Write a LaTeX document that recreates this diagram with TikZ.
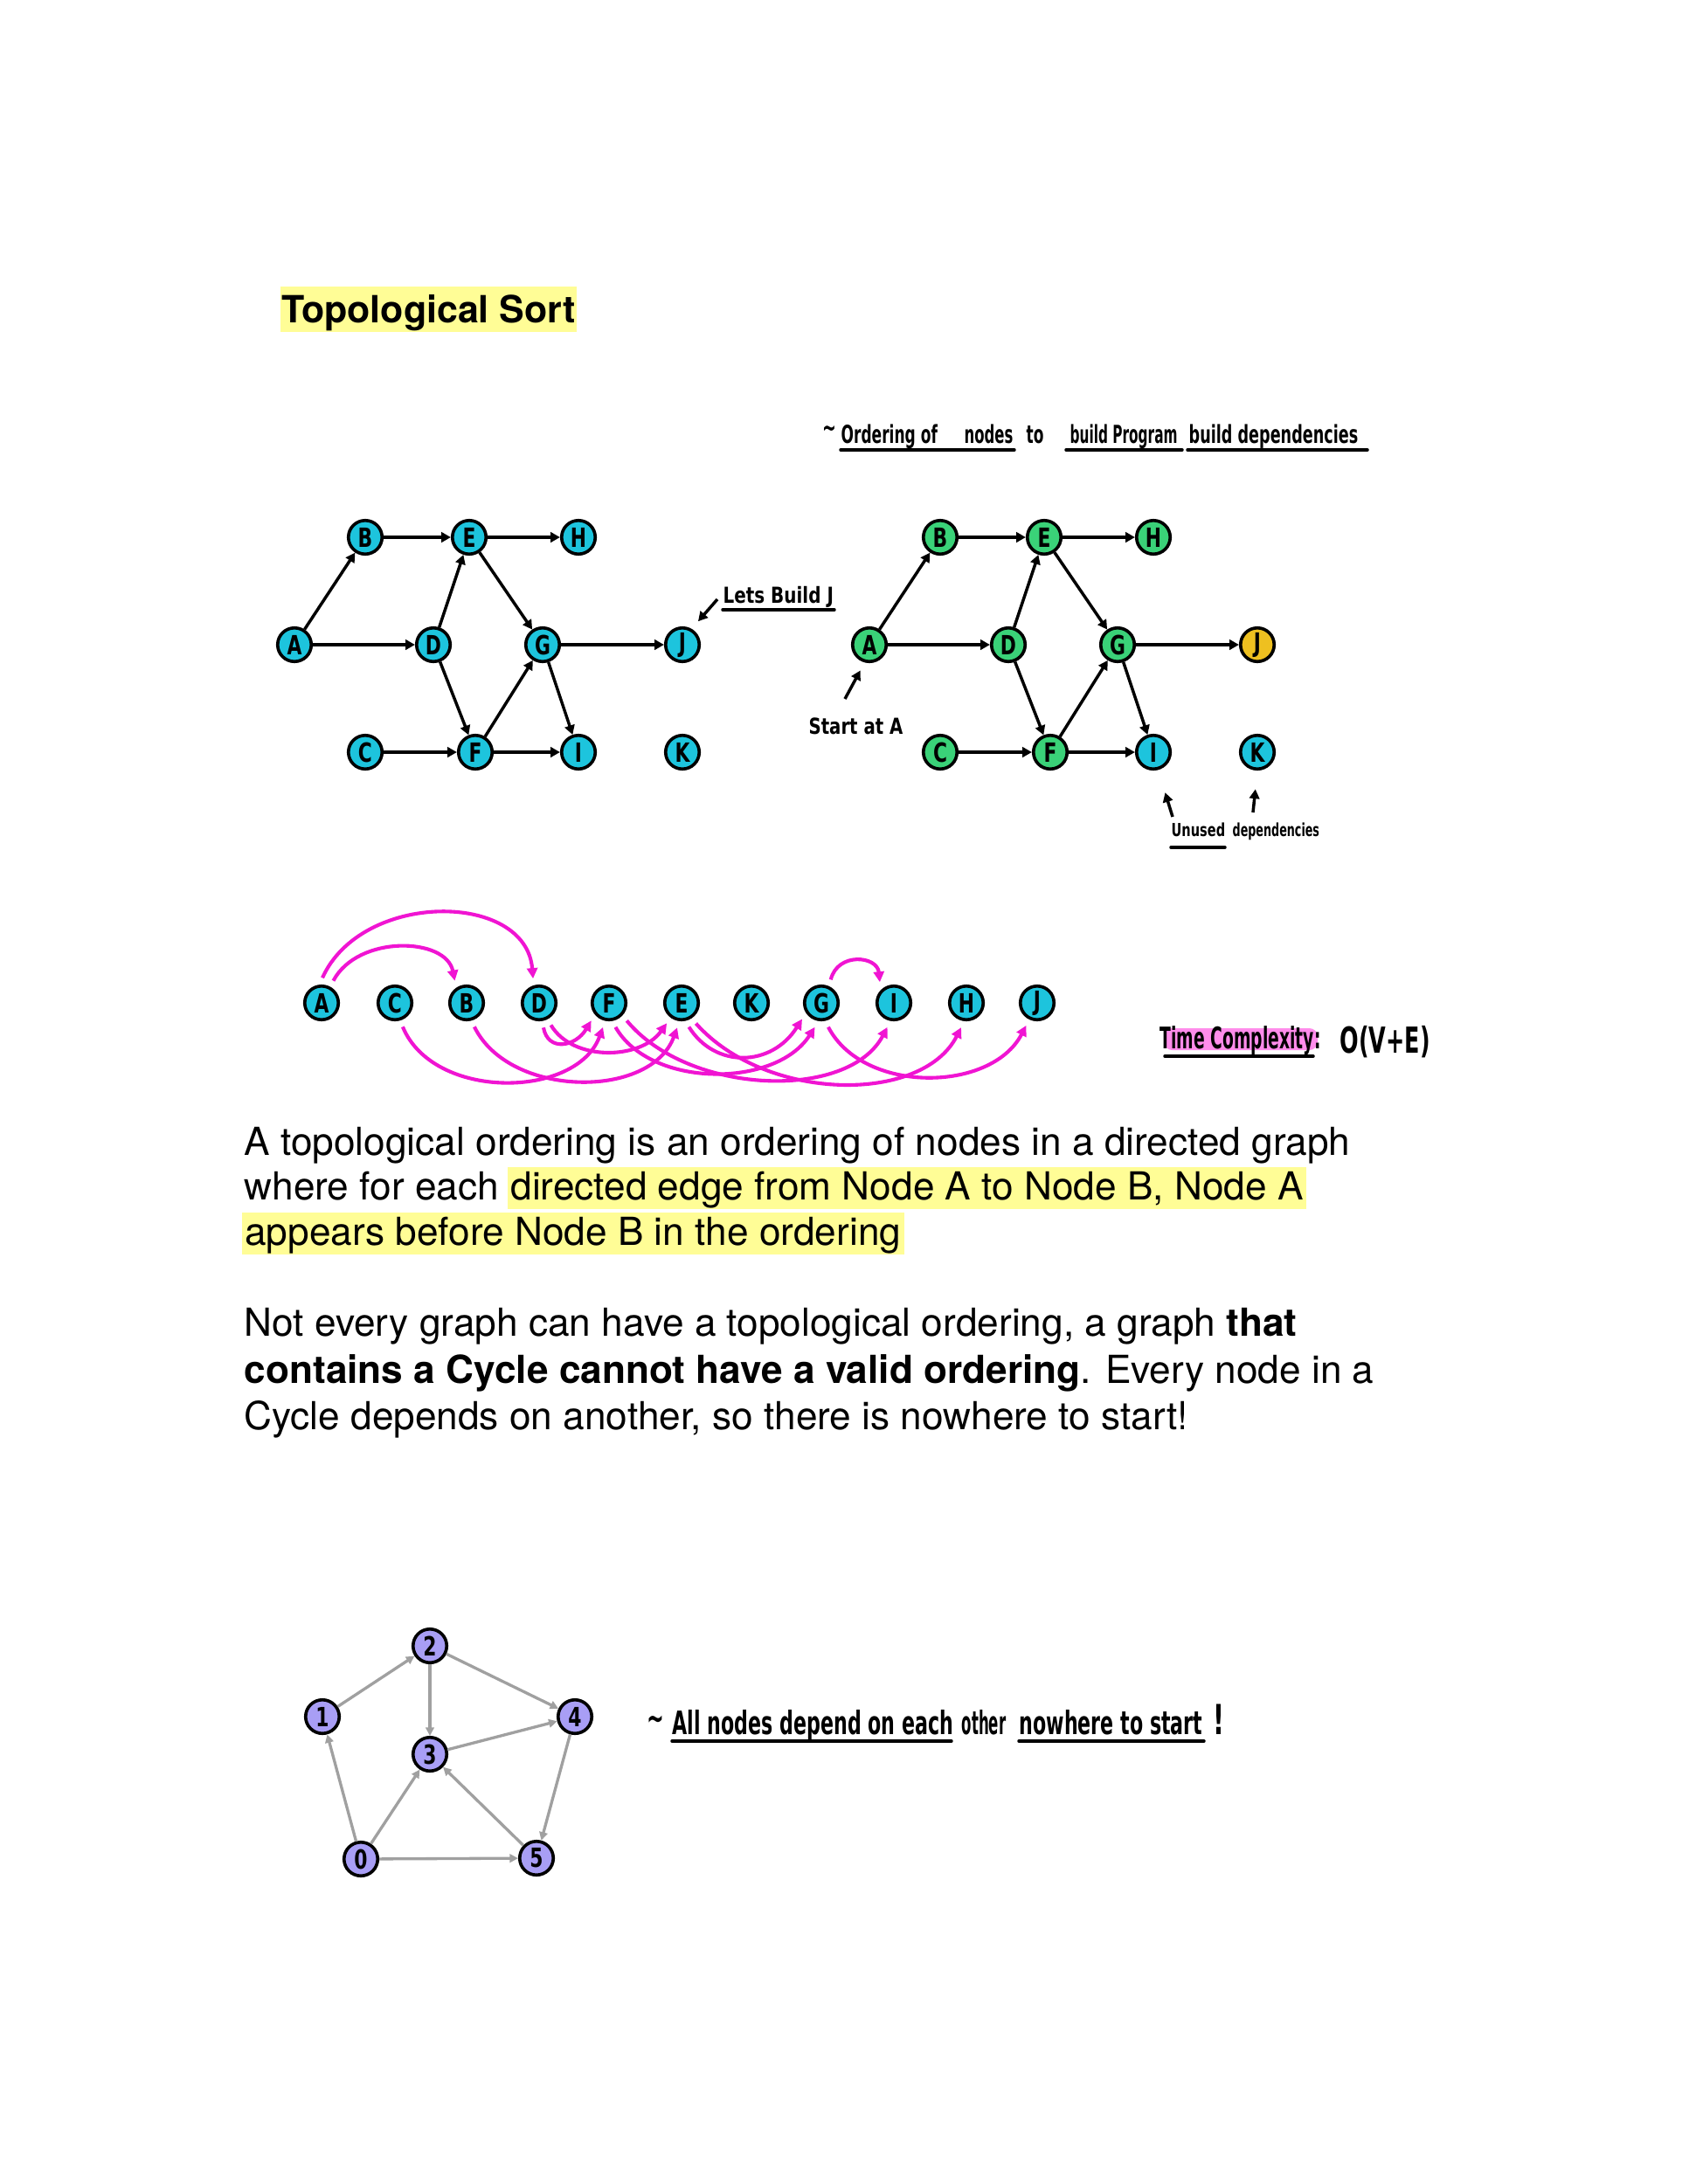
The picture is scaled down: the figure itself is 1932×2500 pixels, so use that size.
\documentclass[tikz,border=0pt]{standalone}
\usepackage{fontspec}
\usepackage{graphicx}
\setmainfont{TeX Gyre Heros}
\newfontfamily\handfont{DejaVu Sans}
\newfontfamily\letterfont[FakeStretch=0.72]{DejaVu Sans}
\usetikzlibrary{arrows.meta}
\newcommand\hw[2]{\scalebox{#1}[1]{#2}}

\definecolor{nodecyan}{RGB}{29,196,221}
\definecolor{nodegreen}{RGB}{58,210,120}
\definecolor{nodegold}{RGB}{238,192,32}
\definecolor{nodepurple}{RGB}{168,158,245}
\definecolor{arcmagenta}{RGB}{240,20,210}
\definecolor{edgegray}{RGB}{160,160,160}
\definecolor{hlyellow}{RGB}{255,253,150}
\definecolor{hlpink}{RGB}{255,140,235}

\begin{document}
\begin{tikzpicture}[x=0.3168pt,y=-0.3168pt,
  vtx/.style={circle,draw=black,line width=1.15pt,minimum size=12.2pt,inner sep=0pt,
    font=\letterfont\bfseries\fontsize{9.6}{10}\selectfont},
  cyanv/.style={vtx,fill=nodecyan},
  greenv/.style={vtx,fill=nodegreen},
  goldv/.style={vtx,fill=nodegold},
  rowv/.style={vtx,fill=nodecyan,outer sep=3pt},
  purplev/.style={vtx,fill=nodepurple},
  edge/.style={line width=1.1pt,-{Triangle[length=3.4pt,width=3.6pt]}},
  orderarc/.style={draw=arcmagenta,line width=1.3pt,-{Triangle[length=3.8pt,width=3.8pt]}},
  cycleedge/.style={draw=edgegray,line width=1.05pt,-{Triangle[length=3pt,width=3pt]}},
  note/.style={font=\handfont\bfseries\fontsize{#1}{#1}\selectfont,inner sep=0pt,anchor=base west},
  uline/.style={line width=1.1pt,line cap=round},
  body/.style={font=\fontsize{14}{16}\selectfont,inner sep=0pt,anchor=base west},
  hlband/.style={fill=hlyellow,inner xsep=1.2pt,inner ysep=0pt,text height=11.7pt,text depth=3.5pt}
]
\path[use as bounding box] (0,0) rectangle (1932,2500);
\fill[white] (0,0) rectangle (1932,2500);

% ---------- title ----------
\node[fill=hlyellow,inner xsep=0.5pt,inner ysep=0pt,text height=13pt,text depth=3.5pt,
  anchor=base west,font=\bfseries\fontsize{13.6}{16}\selectfont] (title) at (320,369) {Topological Sort};

% ---------- left graph ----------
\node[cyanv] (A1) at (337,738) {A};
\node[cyanv] (B1) at (418,615) {B};
\node[cyanv] (E1) at (537,615) {E};
\node[cyanv] (H1) at (662,615) {H};
\node[cyanv] (D1) at (496,738) {D};
\node[cyanv] (G1) at (621,738) {G};
\node[cyanv] (J1) at (781,738) {J};
\node[cyanv] (C1) at (418,861) {C};
\node[cyanv] (F1) at (544,861) {F};
\node[cyanv] (I1) at (662,861) {I};
\node[cyanv] (K1) at (781,861) {K};
\foreach \s/\t in {A1/B1,A1/D1,B1/E1,D1/E1,D1/F1,C1/F1,E1/H1,E1/G1,F1/G1,F1/I1,G1/J1,G1/I1}
  \draw[edge] (\s) -- (\t);

% note: which node to build
\node[note=8] (buildJ) at (827,690) {\hw{0.79}{Lets Build J}};
\draw[uline] (827,698) -- (955,698);
\coordinate (buildJtail) at (821,686);
\draw[edge,shorten >=3.6pt] (buildJtail) -- (J1.60);

% ---------- right graph ----------
\node[greenv] (A2) at (995,738) {A};
\node[greenv] (B2) at (1076,615) {B};
\node[greenv] (E2) at (1195,615) {E};
\node[greenv] (H2) at (1320,615) {H};
\node[greenv] (D2) at (1154,738) {D};
\node[greenv] (G2) at (1279,738) {G};
\node[goldv]  (J2) at (1439,738) {J};
\node[greenv] (C2) at (1076,861) {C};
\node[greenv] (F2) at (1202,861) {F};
\node[cyanv]  (I2) at (1320,861) {I};
\node[cyanv]  (K2) at (1439,861) {K};
\foreach \s/\t in {A2/B2,A2/D2,B2/E2,D2/E2,D2/F2,C2/F2,E2/H2,E2/G2,F2/G2,F2/I2,G2/J2,G2/I2}
  \draw[edge] (\s) -- (\t);

% heading note
\node[note=10] (tilde1) at (941,500) {\hw{0.6}{\textasciitilde}};
\node[note=9] (ord1) at (962,507) {\hw{0.6}{Ordering of}};
\node[note=9] (ord2) at (1103,507) {\hw{0.58}{nodes}};
\node[note=9] (ord3) at (1174,507) {\hw{0.6}{to}};
\node[note=9] (ord4) at (1224,507) {\hw{0.54}{build Program}};
\node[note=9] (ord5) at (1360,507) {\hw{0.62}{build dependencies}};
\draw[uline] (962,515) -- (1161,515);
\draw[uline] (1220,515) -- (1353,515);
\draw[uline] (1359,515) -- (1565,515);

% start note
\node[note=8] (startA) at (925,840) {\hw{0.78}{Start at A}};
\coordinate (startAtail) at (967,800);
\draw[edge,shorten >=3.3pt] (startAtail) -- (A2.-105);

% unused note
\node[note=6.5] (unused1) at (1340,957) {\hw{0.71}{Unused}};
\node[note=6.5] (unused2) at (1410,957) {\hw{0.62}{dependencies}};
\draw[uline] (1340,970) -- (1402,970);
\coordinate (unusedtailI) at (1342,935);
\coordinate (unusedtailK) at (1434,930);
\draw[edge,shorten >=8.6pt] (unusedtailI) -- (I2.-75);
\draw[edge,shorten >=6.8pt] (unusedtailK) -- (K2.south);

% ---------- ordering row ----------
\node[rowv] (rA) at (368,1148) {A};
\node[rowv] (rC) at (452,1148) {C};
\node[rowv] (rB) at (534,1148) {B};
\node[rowv] (rD) at (617,1148) {D};
\node[rowv] (rF) at (697,1148) {F};
\node[rowv] (rE) at (780,1148) {E};
\node[rowv] (rK) at (860,1148) {K};
\node[rowv] (rG) at (940,1148) {G};
\node[rowv] (rI) at (1023,1148) {I};
\node[rowv] (rH) at (1106,1148) {H};
\node[rowv] (rJ) at (1187,1148) {J};

% arcs above the row
\draw[orderarc] (rA.88) .. controls +(45,-100) and +(-8,-100) .. (rD.104);
\draw[orderarc] (rA.62) .. controls +(28,-53) and +(-10,-50) .. (rB.118);
\draw[orderarc] (rG.68) .. controls +(8,-32) and +(-3,-30) .. (rI.124);
% arcs below the row
\draw[orderarc] (rC.-72) .. controls +(35,85) and +(-30,82) .. (rF.-104);
\draw[orderarc] (rB.-72) .. controls +(40,82) and +(-30,82) .. (rE.-100);
\draw[orderarc] (rD.-80) .. controls +(5,28) and +(-18,30) .. (rF.-135);
\draw[orderarc] (rD.-62) .. controls +(25,42) and +(-30,42) .. (rE.-126);
\draw[orderarc] (rF.-75) .. controls +(40,70) and +(-45,70) .. (rG.-105);
\draw[orderarc] (rE.-73) .. controls +(30,48) and +(-35,55) .. (rG.-140);
\draw[orderarc] (rF.-45) .. controls +(70,85) and +(-45,85) .. (rI.-105);
\draw[orderarc] (rE.-55) .. controls +(80,90) and +(-45,88) .. (rH.-102);
\draw[orderarc] (rG.-74) .. controls +(40,77) and +(-40,77) .. (rJ.-116);

% complexity note
\fill[hlpink,rounded corners=3pt] (1332,1177) rectangle (1508,1202);
\node[note=10.8] (timec) at (1327,1200) {\hw{0.55}{Time Complexity:}};
\draw[uline] (1333,1209) -- (1503,1209);
\node[note=13] (bigO) at (1533,1205) {\hw{0.62}{O(V+E)}};

% ---------- explanation ----------
\node[body] (p1a) at (279,1322) {A topological ordering is an ordering of nodes in a directed graph};
\node[body] (p1b) at (279,1373) {where for each};
\node[body,hlband,anchor=base west] (p1c) at ([xshift=2.7pt]p1b.base east) {directed edge from Node A to Node B, Node A};
\node[body,hlband,anchor=base west] (p1d) at (276,1425) {appears before Node B in the ordering};

\node[body] (p2a) at (279,1529) {Not every graph can have a topological ordering, a graph \textbf{that}};
\node[body] (p2b) at (279,1583) {\textbf{contains a Cycle cannot have a valid ordering}. Every node in a};
\node[body] (p2c) at (279,1636) {Cycle depends on another, so there is nowhere to start!};

% ---------- cyclic graph ----------
\node[purplev] (n2) at (492,1884) {2};
\node[purplev] (n1) at (369,1965) {1};
\node[purplev] (n4) at (658,1965) {4};
\node[purplev] (n3) at (492,2008) {3};
\node[purplev] (n0) at (413,2128) {0};
\node[purplev] (n5) at (614,2127) {5};
\foreach \s/\t in {n1/n2,n2/n3,n2/n4,n3/n4,n4/n5,n5/n3,n0/n1,n0/n3,n0/n5}
  \draw[cycleedge] (\s) -- (\t);

\node[note=12.5] (cyc0) at (740,1980) {\hw{0.6}{\textasciitilde}};
\node[note=11.7] (cyc1) at (769,1985) {\hw{0.6}{All nodes depend on each}};
\node[note=11.7] (cyc2) at (1100,1985) {\hw{0.45}{other}};
\node[note=11.7] (cyc3) at (1166,1985) {\hw{0.6}{nowhere to start}};
\node[note=15] (cyc4) at (1388,1985) {\hw{0.6}{!}};
\draw[uline] (769,1993) -- (1089,1993);
\draw[uline] (1166,1993) -- (1378,1993);
\end{tikzpicture}
\end{document}
